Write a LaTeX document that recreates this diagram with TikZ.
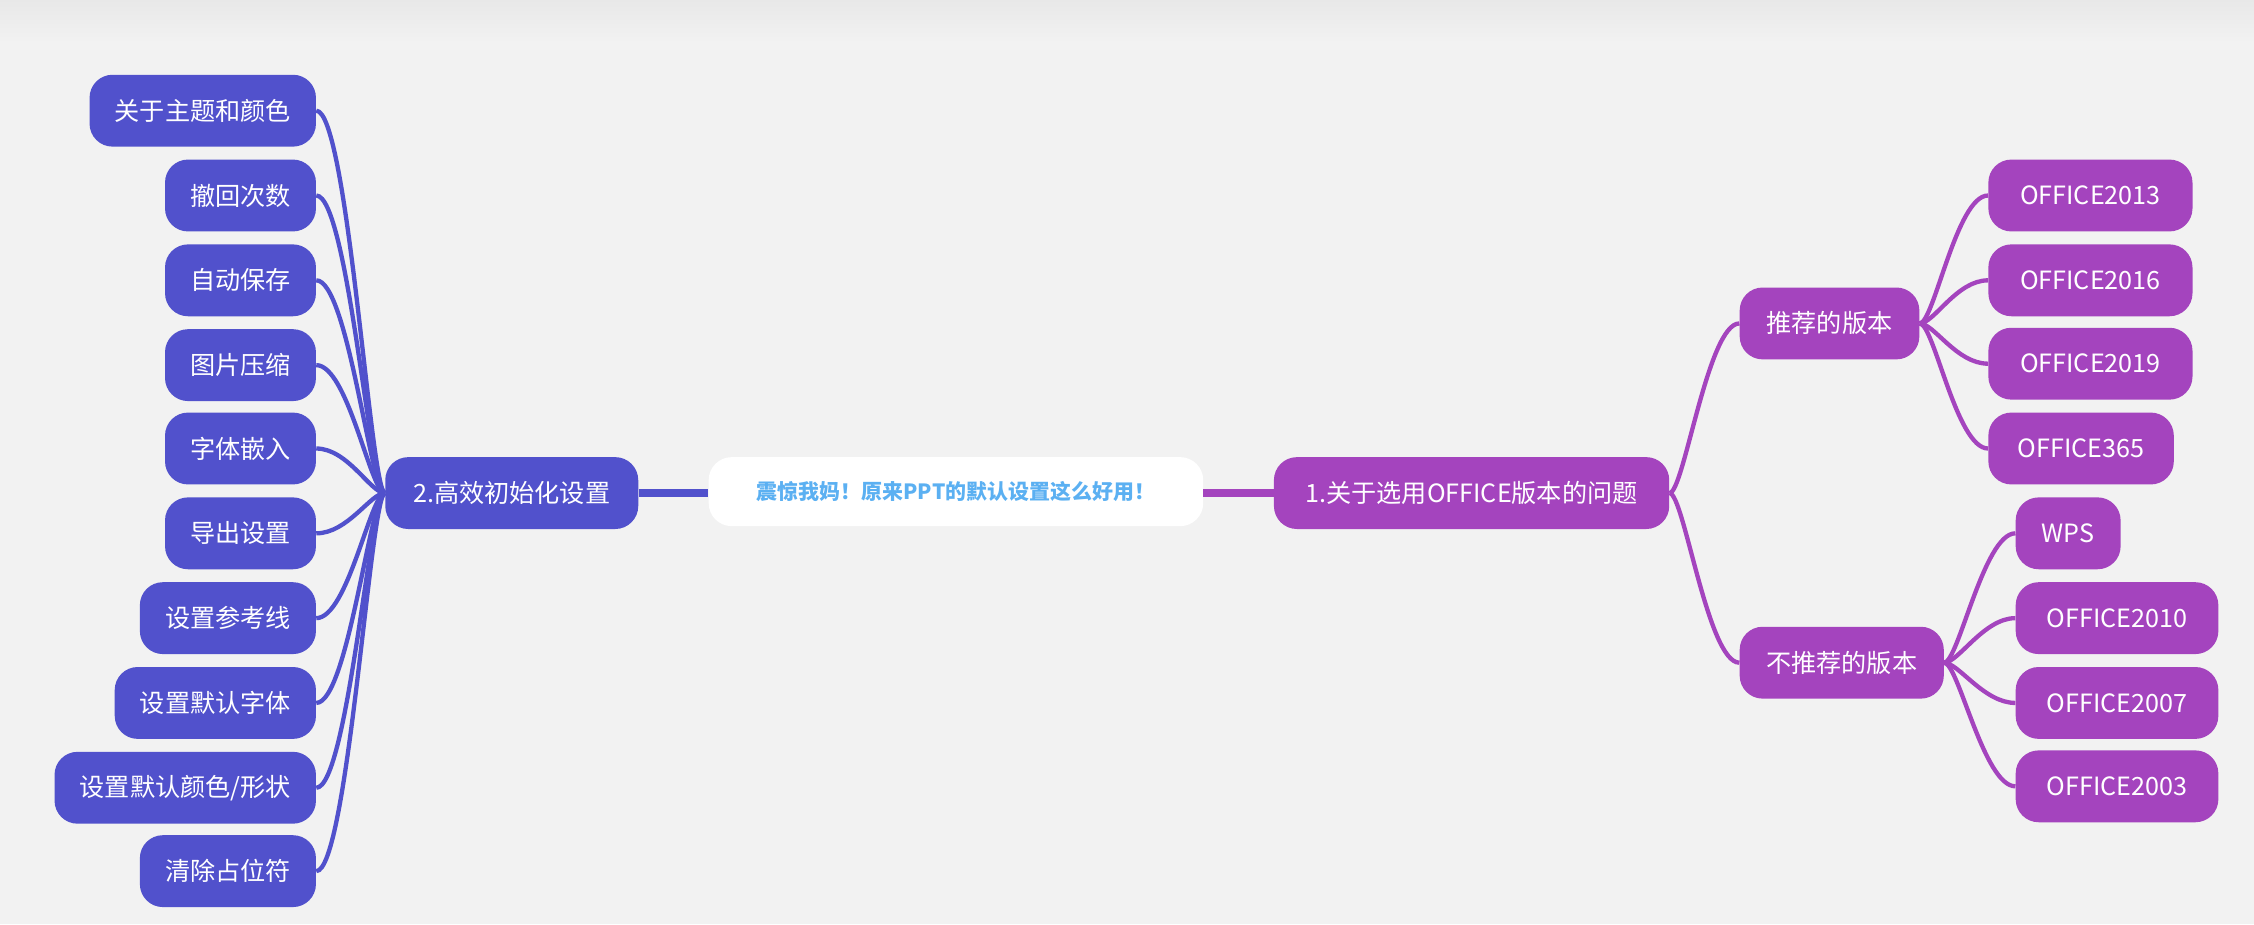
\documentclass[tikz,border=0pt]{standalone}
\usepackage{fontspec}
\setmainfont{Noto Sans CJK SC}
\usetikzlibrary{calc}
\definecolor{bg}{HTML}{F2F2F2}
\definecolor{bluen}{HTML}{5151CC}
\definecolor{purn}{HTML}{A444BE}
\definecolor{roott}{HTML}{5BB0F2}
\begin{document}
\begin{tikzpicture}[x=1pt,y=-1pt,
  box/.style={rounded corners=16pt, minimum height=50pt, inner xsep=17.5pt, inner ysep=0pt, text=white, font=\fontsize{17.5}{20}\selectfont},
  lb/.style={box, fill=bluen},
  pb/.style={box, fill=purn},
  bline/.style={draw=bluen, line width=3pt},
  pline/.style={draw=purn, line width=3pt},
]
\useasboundingbox (0,0) rectangle (1568,643);
\fill[bg] (0,0) rectangle (1568,643);
\shade[top color=black!9, bottom color=bg] (0,0) rectangle (1568,30);

% root
\node[box, fill=white, minimum width=344pt, minimum height=48pt, text=roott, font=\bfseries\fontsize{14.6}{16}\selectfont] (root) at (665,342) {震惊我妈！原来PPT的默认设置这么好用！};

% left branch
\node[lb, minimum width=176pt] (n2) at (356,343) {2.高效初始化设置};
\node[lb, anchor=east] (l1) at (220,77) {关于主题和颜色};
\node[lb, anchor=east] (l2) at (220,136) {撤回次数};
\node[lb, anchor=east] (l3) at (220,195) {自动保存};
\node[lb, anchor=east] (l4) at (220,254) {图片压缩};
\node[lb, anchor=east] (l5) at (220,312) {字体嵌入};
\node[lb, anchor=east] (l6) at (220,371) {导出设置};
\node[lb, anchor=east] (l7) at (220,430) {设置参考线};
\node[lb, anchor=east] (l8) at (220,489) {设置默认字体};
\node[lb, anchor=east] (l9) at (220,548) {设置默认颜色/形状};
\node[lb, anchor=east] (l10) at (220,606) {清除占位符};

% right branch
\node[pb, anchor=west, minimum width=275pt] (n1) at (886,343) {1.关于选用OFFICE版本的问题};
\node[pb, anchor=west, minimum width=125pt] (r1) at (1210,225) {推荐的版本};
\node[pb, anchor=west, minimum width=142pt] (r2) at (1210,461) {不推荐的版本};
\node[pb, anchor=west, minimum width=142pt] (a1) at (1383,136) {OFFICE2013};
\node[pb, anchor=west, minimum width=142pt] (a2) at (1383,195) {OFFICE2016};
\node[pb, anchor=west, minimum width=142pt] (a3) at (1383,253) {OFFICE2019};
\node[pb, anchor=west, minimum width=129pt] (a4) at (1383,312) {OFFICE365};
\node[pb, anchor=west, minimum width=73pt] (b1) at (1402,371) {WPS};
\node[pb, anchor=west, minimum width=141pt] (b2) at (1402,430) {OFFICE2010};
\node[pb, anchor=west, minimum width=141pt] (b3) at (1402,489) {OFFICE2007};
\node[pb, anchor=west, minimum width=141pt] (b4) at (1402,547) {OFFICE2003};

% thick links to root
\draw[draw=bluen, line width=5pt] (n2.east) -- (root.west |- n2.east);
\draw[draw=purn, line width=5pt] (root.east |- n1.west) -- (n1.west);

% left connectors
\foreach \l in {l1,l2,l3,l4,l5,l6,l7,l8,l9,l10}{
  \draw[bline] (n2.west) .. controls +(-10,0) and +(22,0) .. (\l.east);
}
% right connectors
\foreach \r in {r1,r2}{
  \draw[pline] (n1.east) .. controls +(10,0) and +(-22,0) .. (\r.west);
}
\foreach \r in {a1,a2,a3,a4}{
  \draw[pline] (r1.east) .. controls +(10,0) and +(-22,0) .. (\r.west);
}
\foreach \r in {b1,b2,b3,b4}{
  \draw[pline] (r2.east) .. controls +(10,0) and +(-22,0) .. (\r.west);
}
\end{tikzpicture}
\end{document}
